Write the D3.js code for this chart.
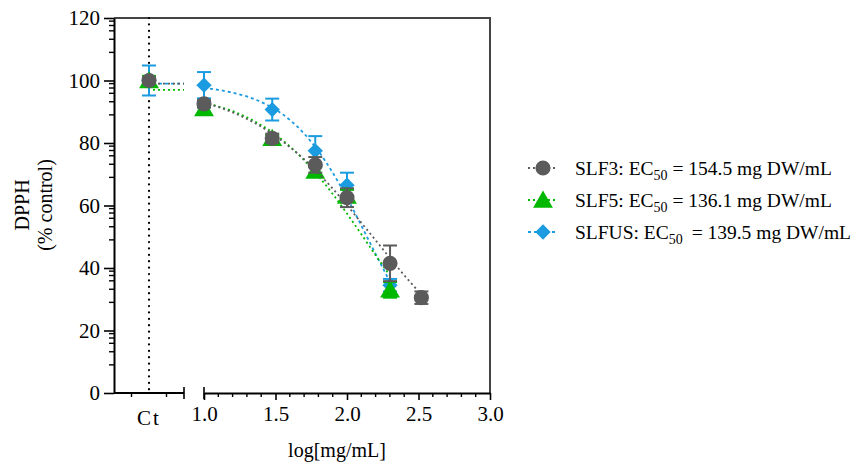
<!DOCTYPE html>
<html>
<head>
<meta charset="utf-8">
<script src="https://cdn.jsdelivr.net/npm/d3@7"></script>
<style>
  body { margin: 0; background: #fff; }
  svg { font-family: "Liberation Serif", "DejaVu Serif", serif; }
</style>
</head>
<body>
<div id="chart"></div>
<script>
// data
const seriesNames = ["SLF3", "SLF5", "SLFUS"]
const ec50Labels = ["154.5", "136.1", "139.5"]
const logConc = [1.0, 1.477, 1.778, 2.0, 2.301, 2.52]

// control values (% control) and their SD
const ctValues = [100, 100, 100]
const ctErrors = [1, 1.5, 4.8]

// treatments, same order as logConc (null = not measured)
const slf3Values = [92.5, 81.5, 73, 62.5, 41.5, 30.5]
const slf3Errors = [1.2, 1.5, 2.5, 3, 5.7, 2]
const slf5Values = [91, 81.5, 71, 63, 33, null]
const slf5Errors = [1, 1, 1.5, 2, 2.5, null]
const slfusValues = [98.5, 90.7, 77.5, 66.5, 34.5, null]
const slfusErrors = [4.2, 3.5, 4.7, 4, 2, null]

// fitted curves
const fitX = [1.0, 1.1, 1.2, 1.3, 1.4, 1.5, 1.6, 1.7, 1.8, 1.9, 2.0, 2.1, 2.2, 2.3, 2.4, 2.52]
const slf3Fit = [93.0, 91.5, 89.8, 87.7, 85.2, 82.2, 78.7, 74.8, 70.3, 65.4, 60.1, 54.5, 48.9, 43.2, 37.7, 31.5]
const slf5Fit = [92.9, 91.7, 90.2, 88.2, 85.7, 82.7, 78.9, 74.5, 69.4, 63.7, 57.4, 50.8, 44.1, 37.6, null, null]
const slfusFit = [97.6, 97.0, 96.1, 94.9, 93.1, 90.7, 87.4, 83.0, 77.4, 70.5, 62.5, 53.6, 44.5, 35.6, null, null]
const fitTop = [99, 97, 99]

const yTicks = [0, 20, 40, 60, 80, 100, 120]
const xTicks = [1.0, 1.5, 2.0, 2.5, 3.0]

let dimensions = {
  width: 856,
  height: 463,
  margin: { top: 18, right: 366, bottom: 70, left: 114 },
}
dimensions.boundedWidth = dimensions.width - dimensions.margin.left - dimensions.margin.right
dimensions.boundedHeight = dimensions.height - dimensions.margin.top - dimensions.margin.bottom

const colors = ["#5b5b5b", "#00b800", "#1b9be0"]
const dashes = ["2 3", "2 3", "3 3"]

const wrapper = d3.select("#chart").append("svg")
  .attr("width", dimensions.width)
  .attr("height", dimensions.height)

const bounds = wrapper.append("g")
  .attr("transform", `translate(${dimensions.margin.left},${dimensions.margin.top})`)

// scales
const yScale = d3.scaleLinear()
  .domain([0, 120])
  .range([dimensions.boundedHeight, 0])

const ctWidth = 70
const ctScale = d3.scalePoint()
  .domain(["Ct"])
  .range([0, ctWidth])
  .padding(0.5)

const xScale = d3.scaleLinear()
  .domain([1, 3])
  .range([90, dimensions.boundedWidth])

// frame (top + right)
bounds.append("path")
  .attr("d", `M0,0H${dimensions.boundedWidth}V${dimensions.boundedHeight}`)
  .attr("fill", "none")
  .attr("stroke", "#444")
  .attr("stroke-width", 2)

// y axis
const minorOffsets = [9, 13.2, 15.9, 17.6, 19]
const yMinor = []
yTicks.slice(0, -1).forEach(t => minorOffsets.forEach(o => yMinor.push(t + o)))

const yAxis = bounds.append("g")
  .call(d3.axisLeft(yScale).tickValues(yTicks).tickSize(10).tickSizeOuter(0).tickPadding(4))
yAxis.select(".domain").attr("stroke-width", 2)
yAxis.selectAll(".tick line").attr("stroke-width", 1.6)
yAxis.selectAll("text").attr("font-size", 21).attr("font-family", "Liberation Serif")

bounds.append("g")
  .selectAll("line")
  .data(yMinor)
  .join("line")
    .attr("x1", -5)
    .attr("x2", 0)
    .attr("y1", d => yScale(d))
    .attr("y2", d => yScale(d))
    .attr("stroke", "#000")
    .attr("stroke-width", 1.4)

// x axis: control segment
const ctAxis = bounds.append("g")
  .attr("transform", `translate(0,${dimensions.boundedHeight})`)
ctAxis.append("line")
  .attr("x1", 0).attr("x2", ctWidth)
  .attr("stroke", "#000").attr("stroke-width", 2)
ctAxis.selectAll(".minor")
  .data([ctWidth / 4, ctWidth * 3 / 4])
  .join("line")
    .attr("x1", d => d).attr("x2", d => d)
    .attr("y1", 0).attr("y2", 4)
    .attr("stroke", "#000").attr("stroke-width", 1.4)
ctAxis.append("line")
  .attr("x1", ctWidth).attr("x2", ctWidth)
  .attr("y1", -6).attr("y2", 6)
  .attr("stroke", "#000").attr("stroke-width", 1.6)
ctAxis.append("text")
  .attr("x", ctScale("Ct"))
  .attr("y", 32)
  .attr("text-anchor", "middle")
  .attr("font-size", 21)
  .attr("letter-spacing", 2)
  .text("Ct")

// x axis: log segment
const xAxis = bounds.append("g")
  .attr("transform", `translate(0,${dimensions.boundedHeight})`)
  .call(d3.axisBottom(xScale).tickValues(xTicks).tickFormat(d3.format(".1f")).tickSize(7).tickSizeOuter(0).tickPadding(6))
xAxis.select(".domain").attr("stroke-width", 2)
xAxis.selectAll(".tick line").attr("stroke-width", 1.6)
xAxis.selectAll("text").attr("font-size", 21).attr("font-family", "Liberation Serif")
xAxis.append("line")
  .attr("x1", xScale(1)).attr("x2", xScale(1))
  .attr("y1", -6).attr("y2", 6)
  .attr("stroke", "#000").attr("stroke-width", 1.6)
xAxis.selectAll(".minor")
  .data(d3.range(10, 30).filter(d => d % 5 !== 0).map(d => d / 10))
  .join("line")
    .attr("class", "minor")
    .attr("x1", d => xScale(d)).attr("x2", d => xScale(d))
    .attr("y1", 0).attr("y2", 4)
    .attr("stroke", "#000").attr("stroke-width", 1.4)

// axis titles
bounds.append("text")
  .attr("x", (xScale(1) + xScale(3)) / 2 - 10)
  .attr("y", dimensions.boundedHeight + 64)
  .attr("text-anchor", "middle")
  .attr("font-size", 20)
  .text("log[mg/mL]")

const yLabel = wrapper.append("text")
  .attr("transform", `translate(29,205) rotate(-90)`)
  .attr("text-anchor", "middle")
  .attr("font-size", 20)
yLabel.append("tspan").attr("x", 0).attr("dy", 0).text("DPPH")
yLabel.append("tspan").attr("x", 0).attr("dy", 23).text("(% control)")

// control dotted line
bounds.append("line")
  .attr("x1", ctScale("Ct")).attr("x2", ctScale("Ct"))
  .attr("y1", 0).attr("y2", dimensions.boundedHeight)
  .attr("stroke", "#000")
  .attr("stroke-width", 2.2)
  .attr("stroke-linecap", "round")
  .attr("stroke-dasharray", "0.1 6.3")

// series
const allValues = [slf3Values, slf5Values, slfusValues]
const allErrors = [slf3Errors, slf5Errors, slfusErrors]
const allFits = [slf3Fit, slf5Fit, slfusFit]

const symbols = [d3.symbolCircle, d3.symbolTriangle, d3.symbolDiamond2]
const symbolSizes = [180, 170, 150]
const drawOrder = [2, 1, 0]

const lineGenerator = d3.line()
  .defined(d => d[1] != null)
  .x(d => xScale(d[0]))
  .y(d => yScale(d[1]))
  .curve(d3.curveMonotoneX)

drawOrder.forEach(i => {
  const g = bounds.append("g")
  const color = colors[i]

  // plateau in control segment
  g.append("line")
    .attr("x1", ctScale("Ct") + 4).attr("x2", ctWidth)
    .attr("y1", yScale(fitTop[i])).attr("y2", yScale(fitTop[i]))
    .attr("stroke", color).attr("stroke-width", 1.8)
    .attr("stroke-dasharray", dashes[i])

  // fitted curve
  g.append("path")
    .attr("d", lineGenerator(fitX.map((x, j) => [x, allFits[i][j]])))
    .attr("fill", "none")
    .attr("stroke", color)
    .attr("stroke-width", 1.8)
    .attr("stroke-dasharray", dashes[i])

  const points = [{ x: ctScale("Ct"), v: ctValues[i], e: ctErrors[i] }]
  logConc.forEach((c, j) => {
    if (allValues[i][j] != null) points.push({ x: xScale(c), v: allValues[i][j], e: allErrors[i][j] })
  })

  // error bars
  const eb = g.selectAll(".eb").data(points).join("g")
  eb.append("line")
    .attr("x1", d => d.x).attr("x2", d => d.x)
    .attr("y1", d => yScale(d.v + d.e)).attr("y2", d => yScale(d.v - d.e))
    .attr("stroke", color).attr("stroke-width", 2)
  eb.selectAll(".cap").data(d => [[d.x, d.v + d.e], [d.x, d.v - d.e]]).join("line")
    .attr("x1", d => d[0] - 7).attr("x2", d => d[0] + 7)
    .attr("y1", d => yScale(d[1])).attr("y2", d => yScale(d[1]))
    .attr("stroke", color).attr("stroke-width", 2)

  // markers
  g.selectAll(".pt").data(points).join("path")
    .attr("transform", d => `translate(${d.x},${yScale(d.v) + (i === 1 ? 2 : 0)})`)
    .attr("d", d3.symbol(symbols[i], symbolSizes[i]))
    .attr("fill", color)
})

// legend
const legend = wrapper.append("g")
  .attr("transform", "translate(528,168)")
const legendRowY = [0, 32, 64]
seriesNames.forEach((name, i) => {
  const row = legend.append("g").attr("transform", `translate(0,${legendRowY[i]})`)
  row.append("line")
    .attr("x1", 0).attr("x2", 30)
    .attr("stroke", colors[i]).attr("stroke-width", 1.8)
    .attr("stroke-dasharray", dashes[i])
  row.append("path")
    .attr("transform", `translate(15,${i === 1 ? 2 : 0})`)
    .attr("d", d3.symbol(symbols[i], symbolSizes[i]))
    .attr("fill", colors[i])
  const t = row.append("text")
    .attr("x", 47)
    .attr("y", 7)
    .attr("font-size", 19.5)
  t.append("tspan").text(`${name}: EC`)
  t.append("tspan").attr("font-size", 14).attr("dy", 5).text("50")
  t.append("tspan").attr("dy", -5).attr("dx", i === 2 ? 4 : 0).text(` = ${ec50Labels[i]} mg DW/mL`)
})
</script>
</body>
</html>
